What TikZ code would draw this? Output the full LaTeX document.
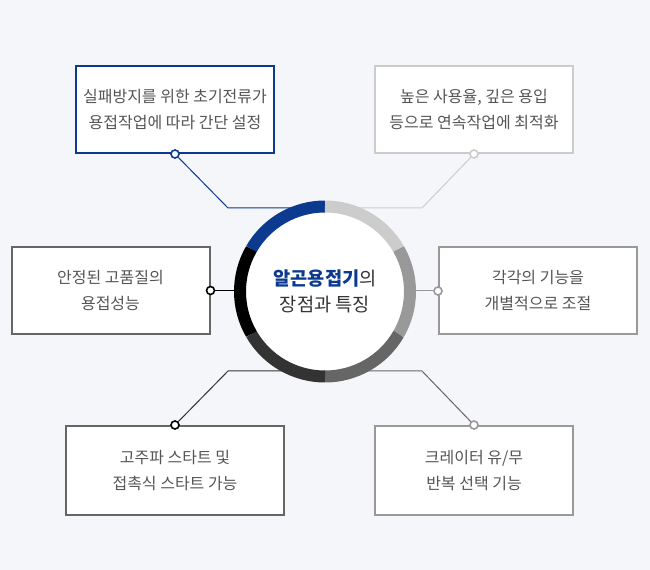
\documentclass[tikz,border=0pt]{standalone}
\usepackage{fontspec}
\setmainfont{Noto Sans CJK KR}
\usetikzlibrary{calc}

\definecolor{weldblue}{HTML}{0B3A8E}
\definecolor{paleline}{HTML}{CCCCCC}
\definecolor{midline}{HTML}{999999}
\definecolor{dimline}{HTML}{666666}
\definecolor{darkline}{HTML}{333333}
\definecolor{boxtext}{HTML}{555555}
\definecolor{pagebg}{HTML}{F5F6FA}

\tikzset{
  featbox/.style={draw, fill=white, line width=1.5pt, minimum width=148.5pt,
    minimum height=65.25pt, align=center, text=boxtext,
    font=\fontsize{12}{19.5}\selectfont},
  pin/.style={circle, draw, fill=white, line width=1.2pt, inner sep=0pt, minimum size=6pt},
  link/.style={line width=0.75pt},
  ringpart/.style={line width=9pt}
}

\begin{document}
\begin{tikzpicture}[x=0.75pt, y=-0.75pt]
\def\rmid{63.75pt}

\fill[pagebg] (0,0) rectangle (650,570);
\useasboundingbox (0,0) rectangle (650,570);

\coordinate (O) at (325,291.5);

% feature boxes
\node[featbox, draw=weldblue] (tlBox) at (175,109.5) {실패방지를 위한 초기전류가\\용접작업에 따라 간단 설정};
\node[featbox, draw=paleline] (trBox) at (474,109.5) {높은 사용율, 깊은 용입\\등으로 연속작업에 최적화};
\node[featbox, draw=dimline] (mlBox) at (110.5,290.5) {안정된 고품질의\\용접성능};
\node[featbox, draw=midline] (mrBox) at (538,291) {각각의 기능을\\개별적으로 조절};
\node[featbox, draw=dimline, minimum width=163.5pt, minimum height=66.75pt] (blBox) at (175,470.5) {고주파 스타트 및\\접촉식 스타트 가능};
\node[featbox, draw=midline, minimum height=66.75pt] (brBox) at (474,470.5) {크레이터 유/무\\반복 선택 기능};

% pins
\node[pin, draw=weldblue] (tlPin) at (tlBox.south) {};
\node[pin, draw=paleline] (trPin) at (trBox.south) {};
\node[pin, draw=black] (mlPin) at (mlBox.east) {};
\node[pin, draw=midline] (mrPin) at (mrBox.west) {};
\node[pin, draw=black] (blPin) at (blBox.north) {};
\node[pin, draw=midline] (brPin) at (brBox.north) {};

\coordinate (tlBend) at (228,208);
\coordinate (trBend) at (422,208);
\coordinate (blBend) at (228,371);
\coordinate (brBend) at (422,371);

\draw[link, weldblue] (tlPin) -- (tlBend) -- (O |- tlBend);
\draw[link, paleline] (trPin) -- (trBend) -- (O |- trBend);
\draw[link, black] (mlPin) -- (O |- mlPin);
\draw[link, midline] (mrPin) -- (O |- mrPin);
\draw[link, darkline] (blPin) -- (blBend) -- (O |- blBend);
\draw[link, dimline] (brPin) -- (brBend) -- (O |- brBend);

% centre
\node[circle, fill=white, minimum size=124pt, align=center, text=darkline,
  font=\fontsize{14}{20}\selectfont] (hub) at (O)
  {{\bfseries\color{weldblue}알곤용접기}의\\장점과 특징};

\foreach \a/\c in {90/weldblue, 30/paleline, -30/midline, -90/dimline, -150/darkline, 150/black}
  \draw[ringpart, \c] (hub.center) ++(\a:\rmid) arc[start angle=\a, end angle=\a+60, radius=\rmid];
\end{tikzpicture}
\end{document}
